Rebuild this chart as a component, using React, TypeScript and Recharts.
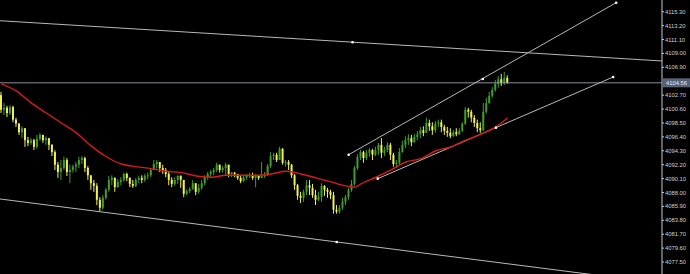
import {
  ComposedChart, Bar, Line, XAxis, YAxis, ReferenceLine, ReferenceDot,
} from 'recharts';

// bar closes, highs, lows (M-style candles, open = previous close)
const firstOpen = 4102.7;
const closes = [
  4100.5, 4100.8, 4100.0, 4100.9, 4099.0, 4098.4, 4097.1, 4097.7, 4095.9, 4095.5,
  4095.9, 4094.9, 4096.1, 4096.7, 4095.9, 4096.2, 4095.2, 4094.1, 4092.2, 4091.1,
  4091.7, 4092.9, 4091.1, 4091.4, 4091.9, 4092.2, 4092.9, 4093.2, 4091.7, 4090.6,
  4089.4, 4089.0, 4086.9, 4085.7, 4087.2, 4088.4, 4089.9, 4090.2, 4088.8, 4089.6,
  4089.9, 4090.8, 4090.2, 4089.3, 4089.0, 4089.9, 4090.2, 4089.9, 4090.5, 4090.6,
  4091.4, 4092.3, 4092.6, 4091.7, 4091.4, 4090.8, 4089.9, 4089.3, 4089.9, 4090.5,
  4089.9, 4087.8, 4088.2, 4088.5, 4089.4, 4088.1, 4088.7, 4089.4, 4090.3, 4090.8,
  4091.1, 4091.4, 4092.2, 4091.4, 4091.7, 4092.2, 4090.8, 4091.0, 4090.8, 4090.2,
  4089.7, 4090.3, 4090.5, 4090.6, 4090.2, 4090.5, 4090.2, 4090.5, 4090.6, 4092.0,
  4093.5, 4093.7, 4092.9, 4094.6, 4092.5, 4092.6, 4092.2, 4090.6, 4089.1, 4087.5,
  4087.2, 4088.1, 4089.1, 4088.7, 4087.6, 4086.9, 4087.3, 4089.0, 4088.4, 4088.1,
  4087.6, 4085.4, 4085.1, 4085.7, 4086.6, 4087.3, 4088.4, 4089.3, 4091.7, 4093.4,
  4094.1, 4093.2, 4094.0, 4094.4, 4093.7, 4094.4, 4095.2, 4094.0, 4094.4, 4095.2,
  4093.7, 4092.3, 4092.5, 4094.1, 4095.2, 4095.9, 4096.2, 4095.6, 4096.4, 4096.8,
  4097.4, 4097.0, 4098.5, 4098.0, 4097.4, 4098.4, 4098.6, 4097.9, 4097.3, 4097.0,
  4096.5, 4097.1, 4096.8, 4097.3, 4098.4, 4100.5, 4100.2, 4099.3, 4098.5, 4097.7,
  4097.4, 4100.2, 4101.5, 4102.6, 4103.5, 4104.4, 4105.1, 4104.5, 4105.3, 4104.56,
];
const highs = [
  4103.2, 4101.5, 4101.1, 4101.2, 4101.1, 4099.3, 4098.5, 4098.0, 4097.4, 4096.4,
  4096.2, 4096.1, 4096.7, 4097.0, 4096.5, 4096.5, 4096.2, 4095.3, 4094.4, 4092.6,
  4092.9, 4093.4, 4093.2, 4092.2, 4092.2, 4092.6, 4093.4, 4093.5, 4093.4, 4092.0,
  4090.6, 4089.9, 4089.4, 4087.3, 4087.6, 4088.7, 4090.5, 4090.6, 4090.3, 4090.0,
  4090.3, 4091.0, 4091.0, 4090.3, 4089.9, 4090.2, 4090.5, 4090.6, 4090.8, 4091.0,
  4091.7, 4092.9, 4092.9, 4092.5, 4092.2, 4091.7, 4091.1, 4090.3, 4090.3, 4090.6,
  4090.6, 4089.9, 4088.5, 4088.8, 4089.9, 4089.4, 4089.3, 4089.9, 4090.6, 4091.1,
  4091.4, 4091.7, 4092.5, 4092.2, 4092.0, 4092.5, 4092.0, 4091.1, 4091.1, 4090.8,
  4090.5, 4090.6, 4090.8, 4091.0, 4091.0, 4090.8, 4090.6, 4092.6, 4091.1, 4092.3,
  4094.1, 4094.0, 4094.0, 4094.9, 4094.7, 4092.9, 4092.9, 4092.3, 4090.8, 4089.3,
  4088.1, 4088.4, 4089.9, 4089.9, 4089.3, 4088.4, 4088.1, 4089.4, 4089.1, 4088.7,
  4088.4, 4088.1, 4086.1, 4086.1, 4087.2, 4087.6, 4088.7, 4089.9, 4092.0, 4093.8,
  4094.4, 4094.3, 4094.4, 4094.7, 4094.6, 4094.9, 4095.5, 4096.2, 4094.9, 4095.6,
  4095.5, 4094.0, 4092.9, 4094.7, 4095.8, 4096.5, 4096.8, 4096.7, 4096.8, 4097.3,
  4097.9, 4098.0, 4099.3, 4099.0, 4098.6, 4098.8, 4099.0, 4099.0, 4098.2, 4097.9,
  4097.7, 4097.4, 4097.7, 4097.7, 4098.6, 4100.9, 4100.8, 4100.5, 4099.7, 4099.0,
  4098.6, 4101.5, 4102.3, 4103.2, 4103.9, 4105.0, 4105.6, 4105.9, 4106.2, 4105.7,
];
const lows = [
  4100.0, 4099.7, 4099.4, 4099.7, 4098.6, 4097.9, 4096.7, 4096.2, 4094.9, 4095.0,
  4095.2, 4094.4, 4094.6, 4095.8, 4095.5, 4095.2, 4094.4, 4093.5, 4091.4, 4090.2,
  4089.9, 4091.4, 4090.5, 4089.4, 4091.0, 4091.1, 4091.7, 4092.3, 4091.1, 4089.9,
  4088.4, 4088.1, 4086.1, 4085.2, 4085.4, 4086.9, 4088.1, 4089.1, 4088.1, 4088.7,
  4089.1, 4089.6, 4089.7, 4088.8, 4088.7, 4088.8, 4089.4, 4089.4, 4089.6, 4090.0,
  4090.3, 4091.4, 4091.6, 4091.1, 4090.8, 4090.3, 4089.1, 4088.8, 4089.0, 4089.3,
  4088.7, 4087.3, 4087.6, 4087.9, 4088.4, 4087.6, 4087.8, 4088.4, 4089.1, 4089.9,
  4090.3, 4090.6, 4091.1, 4091.0, 4091.0, 4090.6, 4090.3, 4090.3, 4090.3, 4089.9,
  4089.4, 4089.6, 4089.9, 4090.2, 4089.9, 4088.8, 4089.9, 4090.2, 4090.2, 4090.5,
  4091.7, 4092.9, 4092.6, 4092.9, 4092.2, 4091.9, 4091.4, 4090.2, 4088.4, 4086.9,
  4086.4, 4086.6, 4087.6, 4087.6, 4087.2, 4086.1, 4086.7, 4086.6, 4087.5, 4087.2,
  4087.0, 4084.8, 4084.8, 4084.8, 4085.4, 4086.1, 4086.9, 4088.1, 4089.0, 4091.4,
  4092.9, 4092.5, 4092.9, 4093.4, 4092.9, 4093.5, 4093.7, 4093.2, 4093.5, 4094.1,
  4092.9, 4091.9, 4091.7, 4092.2, 4094.0, 4094.7, 4095.2, 4095.0, 4095.5, 4095.9,
  4096.2, 4096.5, 4097.1, 4097.3, 4096.7, 4097.0, 4097.9, 4097.1, 4096.7, 4096.4,
  4096.2, 4096.4, 4096.5, 4096.7, 4097.1, 4098.2, 4099.3, 4098.6, 4097.9, 4097.1,
  4097.0, 4097.3, 4099.9, 4101.4, 4102.3, 4103.2, 4103.8, 4104.1, 4104.2, 4104.4,
];

// moving average, read at every few bars
const maIdx = [0, 5, 10, 15, 20, 25, 30, 35, 40, 45, 50, 55, 60, 65, 70, 75, 80, 85, 90, 95,
  100, 105, 110, 115, 118, 120, 125, 130, 135, 140, 145, 150, 155, 160, 165, 169];
const maVals = [4104.4, 4103.3, 4101.5, 4100.0, 4098.5, 4097.0, 4095.0, 4093.4, 4092.3, 4091.9,
  4091.6, 4091.2, 4091.0, 4090.5, 4090.3, 4090.6, 4090.6, 4090.6, 4090.8, 4091.2,
  4090.8, 4090.2, 4089.6, 4089.0, 4088.8, 4089.3, 4090.3, 4091.4, 4092.6, 4093.1,
  4094.3, 4094.9, 4095.9, 4096.8, 4097.9, 4099.3];

const priceTicks = [4115.3, 4113.2, 4111.1, 4109.0, 4106.9, 4102.7, 4100.6, 4098.5, 4096.4,
  4094.3, 4092.2, 4090.1, 4088.0, 4085.9, 4083.8, 4081.7, 4079.6, 4077.5];
const lastPrice = 4104.56;

// trend lines: [barIndex, price] endpoints and their anchor dots
const trendFrom = [[-0.5, 4113.94], [-0.5, 4087.02], [115.9, 4093.71], [125.6, 4090.09]];
const trendTo = [[220.5, 4107.86], [220.5, 4074.26], [205.2, 4116.66], [204.2, 4105.44]];
const anchors = [
  [117.2, 4110.68], [111.9, 4080.53],
  [115.9, 4093.71], [160.7, 4105.14], [205.2, 4116.66],
  [125.6, 4090.09], [165.1, 4097.79], [204.2, 4105.44],
];

const BULL = '#3e9e2c';
const BEAR = '#eef05a';
const LINE = '#b8b8b8';

const data = closes.map((c, i) => {
  const open = i === 0 ? firstOpen : closes[i - 1];
  return {
    i,
    open,
    close: c,
    high: Math.max(highs[i], open, c),
    low: Math.min(lows[i], open, c),
  };
});
const maData = maIdx.map((i, j) => ({ i, ma: maVals[j] }));

function Candle(props: any) {
  const { x, y, width, height, payload } = props;
  if (!payload) return null;
  const { open, close, high, low } = payload;
  const color = close >= open ? BULL : BEAR;
  const top = Math.min(y, y + height);
  const h = Math.abs(height);
  const k = h / (high - low || 1);
  const b1 = top + (high - Math.max(open, close)) * k;
  const b2 = top + (high - Math.min(open, close)) * k;
  const cx = x + width / 2;
  return (
    <g>
      <line x1={cx} x2={cx} y1={top} y2={top + h} stroke={color} strokeWidth={1} />
      <rect x={x} y={b1} width={width} height={Math.max(1, b2 - b1)} fill={color} />
    </g>
  );
}

function PriceTag(props: any) {
  const { viewBox } = props;
  const x = viewBox.x + viewBox.width + 1;
  return (
    <g>
      <rect x={x} y={viewBox.y - 4.5} width={27} height={9} fill="#56647a" />
      <text x={x + 3} y={viewBox.y + 2} fontSize={5.8} fill="#e8e8e8"
        fontFamily="Liberation Sans">{lastPrice.toFixed(2)}</text>
    </g>
  );
}

export default function App() {
  return (
    <div style={{ width: 690, height: 274, background: '#000' }}>
      <style>{'body{margin:0;background:#000}'}</style>
      <ComposedChart width={690} height={274} data={data}
        margin={{ top: 0, right: 0, bottom: 0, left: 0 }}>
        <XAxis dataKey="i" type="number" domain={[-0.5, 220.5]} hide allowDataOverflow />
        <YAxis orientation="right" width={28} domain={[4075.69, 4117.07]} allowDataOverflow
          ticks={priceTicks} interval={0} tickFormatter={(v: number) => v.toFixed(2)}
          tick={{ fontSize: 5.8, fill: '#d0d0d0', fontFamily: 'Liberation Sans', textAnchor: 'start' }}
          tickSize={2} tickMargin={1} axisLine={{ stroke: '#c8c8c8' }} tickLine={{ stroke: '#c8c8c8' }} />
        <ReferenceLine y={lastPrice} stroke="#8a909c" strokeWidth={1} label={<PriceTag />} />
        {trendFrom.map((p, k) => (
          <ReferenceLine key={k} ifOverflow="hidden" stroke={LINE} strokeWidth={1}
            segment={[{ x: p[0], y: p[1] }, { x: trendTo[k][0], y: trendTo[k][1] }]} />
        ))}
        <Bar dataKey={(d: any) => [d.low, d.high]} barSize={2} shape={<Candle />}
          isAnimationActive={false} />
        <Line data={maData} dataKey="ma" type="monotone" stroke="#d41c1c" strokeWidth={1.4}
          dot={false} activeDot={false} isAnimationActive={false} />
        {anchors.map((p, k) => (
          <ReferenceDot key={k} x={p[0]} y={p[1]} r={1.3} fill="#ffffff" stroke="none" />
        ))}
      </ComposedChart>
    </div>
  );
}
